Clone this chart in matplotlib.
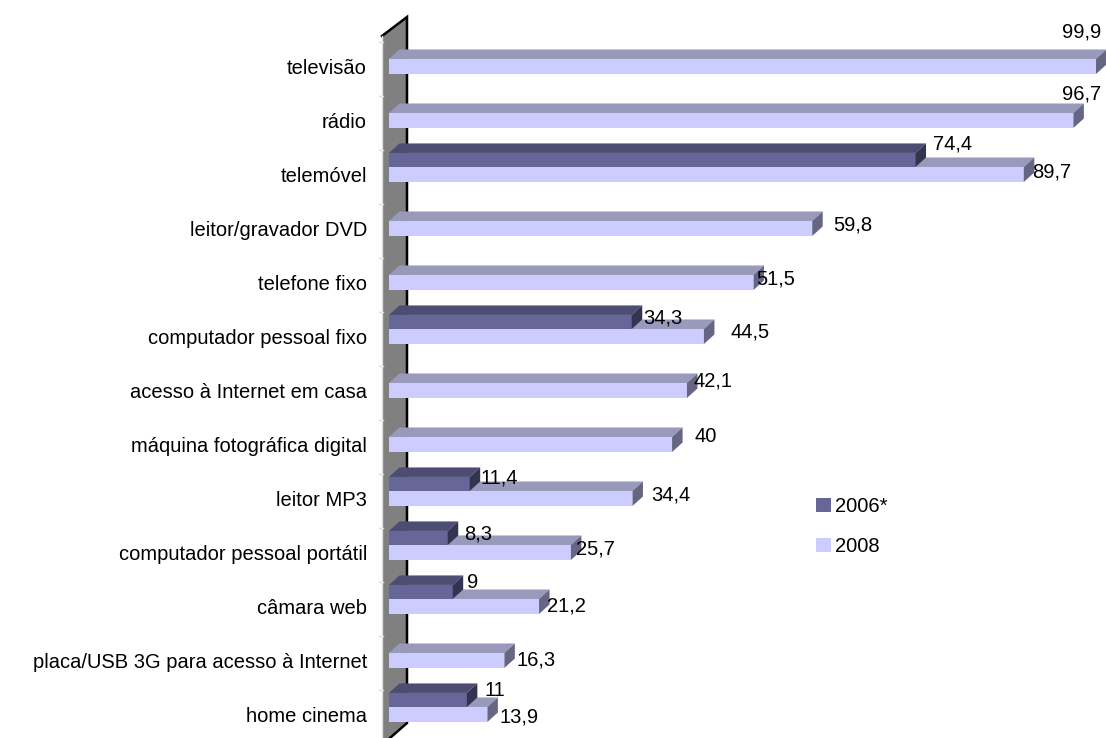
import numpy as np
import matplotlib
matplotlib.use("Agg")
import matplotlib.pyplot as plt
from matplotlib.patches import Polygon, Patch

# ---------------- data ----------------
categories = [
    "televisão", "rádio", "telemóvel", "leitor/gravador DVD", "telefone fixo",
    "computador pessoal fixo", "acesso à Internet em casa",
    "máquina fotográfica digital", "leitor MP3", "computador pessoal portátil",
    "câmara web", "placa/USB 3G para acesso à Internet", "home cinema",
]
values_2006 = [np.nan, np.nan, 74.4, np.nan, np.nan, 34.3, np.nan, np.nan,
               11.4, 8.3, 9, np.nan, 11]
values_2008 = [99.9, 96.7, 89.7, 59.8, 51.5, 44.5, 42.1, 40, 34.4, 25.7,
               21.2, 16.3, 13.9]
series_names = ["2006*", "2008"]

# ---------------- style / layout ----------------
plt.rcParams["font.family"] = ["Liberation Sans", "DejaVu Sans"]
W, H, DPI = 1106, 738, 100
PX_UNIT = 7.077          # pixels per value unit
PX_ROW = 54.0            # pixels per category
ZERO_PX = 389            # pixel x of value 0
FIRST_ROW_PX = 66        # pixel y of first category
AX_LEFT_PX = 375
CAT_FS = 14.5
VAL_FS = 14.5

DX = 10.5 / PX_UNIT      # depth offset (x) in data units
DY = 9.5 / PX_ROW        # depth offset (y) in category units

colors_2006 = dict(front="#666699", top="#4D4D73", side="#333352")
colors_2008 = dict(front="#CCCCFF", top="#9999BB", side="#666684")

# label offsets in pixels (dx right, dy down) relative to bar end / row centre
off_2008 = [(-34, -34), (-11, -26), (8, -2), (21, -3), (3, -3), (27, -4),
            (7, -9), (22, -7), (19, -3), (5, -3), (8, 0), (12, 0), (12, 3)]
off_2006 = [None, None, (17, -30), None, None, (11, -18), None, None,
            (11, -20), (16, -18), (14, -23), None, (18, -23)]

fig = plt.figure(figsize=(W / DPI, H / DPI), dpi=DPI)
ax = fig.add_axes([AX_LEFT_PX / W, 0, 1 - AX_LEFT_PX / W, 1])
ax.set_xlim((AX_LEFT_PX - ZERO_PX) / PX_UNIT, (W - ZERO_PX) / PX_UNIT)
ax.set_ylim((H - FIRST_ROW_PX) / PX_ROW, -FIRST_ROW_PX / PX_ROW)
for s in ax.spines.values():
    s.set_visible(False)
ax.set_xticks([])

# ---------------- wall ----------------
def px2x(px):
    return (px - ZERO_PX) / PX_UNIT

def px2y(py):
    return (py - FIRST_ROW_PX) / PX_ROW

wall = [(px2x(382), px2y(36)), (px2x(407), px2y(17)),
        (px2x(407), px2y(723)), (px2x(382), px2y(745))]
ax.add_patch(Polygon(wall, closed=True, facecolor="#808080",
                     edgecolor="none", zorder=1))
ax.plot([wall[0][0], wall[1][0], wall[2][0], wall[3][0] + (wall[2][0]-wall[3][0]) * 0.26],
        [wall[0][1], wall[1][1], wall[2][1], wall[2][1] + (wall[3][1]-wall[2][1]) * 0.74],
        color="black", lw=1.8, zorder=1.5, solid_joinstyle="miter")
ax.plot([wall[0][0], wall[3][0]], [wall[0][1], wall[3][1]],
        color="#E0E0E0", lw=1.0, zorder=1.5)
for i in range(len(categories) + 1):
    yb = i - 0.5
    ax.plot([px2x(379), px2x(383)], [yb + 0.05, yb + 0.05], color="#E0E0E0",
            lw=1.0, zorder=1.5)

# ---------------- 3D bars ----------------
H08_TOP, H08_BOT = -0.13, 0.148
H06_TOP, H06_BOT = -0.39, -0.13

def bar3d(ypos, top_off, bot_off, val, col, z):
    top = ypos + top_off
    bot = ypos + bot_off
    ax.barh(ypos + (top_off + bot_off) / 2, val, height=bot_off - top_off,
            left=0, color=col["front"], edgecolor="none", zorder=z)
    ax.add_patch(Polygon([(0, top), (DX, top - DY), (val + DX, top - DY),
                          (val, top)], closed=True, facecolor=col["top"],
                         edgecolor="none", zorder=z))
    ax.add_patch(Polygon([(val, top), (val + DX, top - DY),
                          (val + DX, bot - DY), (val, bot)], closed=True,
                         facecolor=col["side"], edgecolor="none", zorder=z))

def fmt(v):
    return ("%g" % v).replace(".", ",")

for i, cat in enumerate(categories):
    z = 2 + i * 0.01
    v08 = values_2008[i]
    v06 = values_2006[i]
    bar3d(i, H08_TOP, H08_BOT, v08, colors_2008, z)
    if not np.isnan(v06):
        bar3d(i, H06_TOP, H06_BOT, v06, colors_2006, z + 0.005)

for i, cat in enumerate(categories):
    v08 = values_2008[i]
    dx, dy = off_2008[i]
    ax.annotate(fmt(v08), xy=(v08, i), xytext=(dx, -dy),
                textcoords="offset pixels", ha="left", va="center",
                fontsize=VAL_FS, color="black", zorder=10)
    v06 = values_2006[i]
    if not np.isnan(v06):
        dx, dy = off_2006[i]
        ax.annotate(fmt(v06), xy=(v06, i), xytext=(dx, -dy),
                    textcoords="offset pixels", ha="left", va="center",
                    fontsize=VAL_FS, color="black", zorder=10)

# ---------------- category labels ----------------
ax.set_yticks(range(len(categories)))
ax.set_yticklabels(categories, fontsize=CAT_FS)
ax.tick_params(axis="y", length=0, pad=(AX_LEFT_PX - 367) * 0.72)

# ---------------- legend ----------------
handles = [Patch(facecolor=colors_2006["front"], edgecolor="none"),
           Patch(facecolor=colors_2008["front"], edgecolor="none")]
fig.legend(handles, series_names, loc="upper left",
           bbox_to_anchor=(816 / W, 1 - 497 / H), frameon=False,
           fontsize=VAL_FS, handlelength=0.75, handleheight=0.75,
           handletextpad=0.2, labelspacing=1.05, borderpad=0,
           borderaxespad=0)

fig.savefig("out.png", dpi=DPI)
